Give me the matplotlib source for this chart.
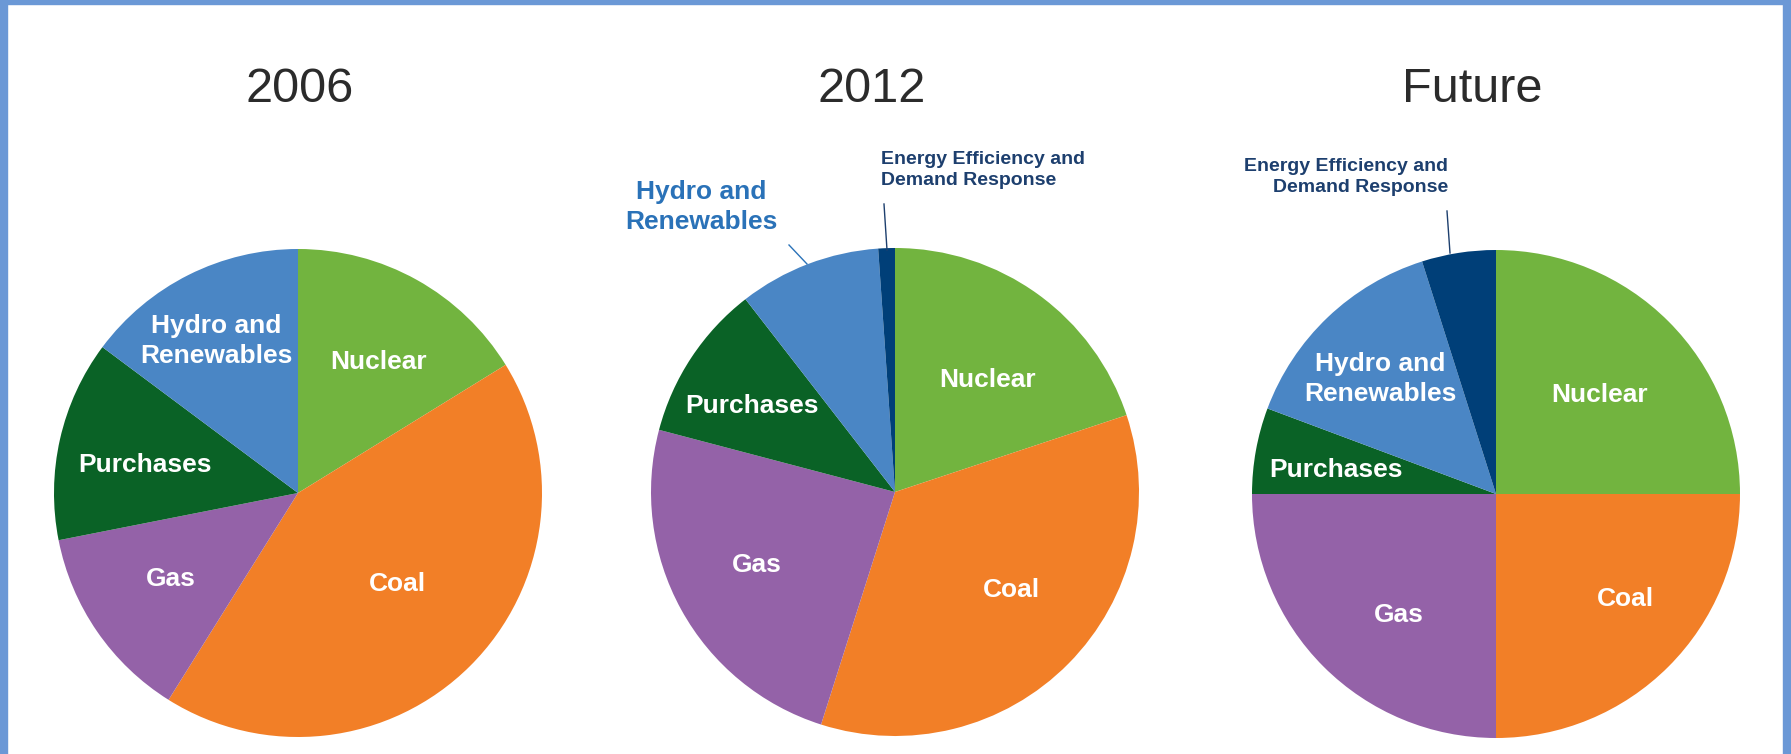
import matplotlib.pyplot as plt
from matplotlib.patches import Rectangle

W, H = 1791, 754

# slice order runs clockwise from 12 o'clock
sources = ['Nuclear', 'Coal', 'Gas', 'Purchases',
           'Hydro and\nRenewables', 'Energy Efficiency and\nDemand Response']
colors = ['#72b43f', '#f27f27', '#9462a8', '#0a6226', '#4a86c5', '#003f78']

titles = ['2006', '2012', 'Future']
share_2006 = [16.2, 42.7, 13.0, 13.3, 14.8, 0.0]
share_2012 = [19.9, 35.0, 24.2, 10.4, 9.4, 1.1]
share_future = [25.0, 25.0, 25.0, 5.7, 14.4, 4.9]
shares = [share_2006, share_2012, share_future]

FONT = ['Liberation Sans', 'DejaVu Sans']

# layout in image pixels (x from left, y from top)
centers = [(298, 493), (895, 492), (1496, 494)]
radius = 244
title_pos = [(300, 90), (872, 90), (1472, 90)]
inner_labels = [
    {'Nuclear': (379, 362), 'Coal': (397, 584), 'Gas': (171, 579),
     'Purchases': (145, 465), 'Hydro and\nRenewables': (216, 341)},
    {'Nuclear': (988, 380), 'Coal': (1011, 590), 'Gas': (757, 565),
     'Purchases': (752, 406)},
    {'Nuclear': (1600, 395), 'Coal': (1625, 599), 'Gas': (1399, 615),
     'Purchases': (1336, 470), 'Hydro and\nRenewables': (1380, 379)},
]


def fy(y):
    return H - y


fig = plt.figure(figsize=(W / 100, H / 100), dpi=100)
fig.patch.set_facecolor('white')
ax = fig.add_axes([0, 0, 1, 1])

for vals, (cx, cy) in zip(shares, centers):
    ax.pie(vals, colors=colors, startangle=90, counterclock=False,
           center=(cx, fy(cy)), radius=radius,
           wedgeprops=dict(linewidth=0))

for t, (x, y) in zip(titles, title_pos):
    ax.text(x, fy(y), t, ha='center', va='center', fontsize=35,
            color='#2b2b2b', family=FONT)

for labels in inner_labels:
    for name, (x, y) in labels.items():
        ax.text(x, fy(y), name, ha='center', va='center', fontsize=19,
                fontweight='bold', color='white', family=FONT,
                linespacing=1.3)

# outside labels on the 2012 pie
ax.text(701, fy(207), sources[4], ha='center', va='center', fontsize=19,
        fontweight='bold', color='#2a72b8', family=FONT, linespacing=1.3)
ax.plot([789, 807], [fy(245), fy(264)], color='#2a72b8', lw=1)
ax.text(881, fy(170), sources[5], ha='left', va='center', fontsize=14,
        fontweight='bold', color='#1d3f6e', family=FONT, linespacing=1.3)
ax.plot([884, 887], [fy(204), fy(250)], color='#1d3f6e', lw=1)

# outside label on the future pie
ax.text(1448, fy(177), sources[5], ha='right', va='center', fontsize=14,
        fontweight='bold', color='#1d3f6e', family=FONT, linespacing=1.3,
        multialignment='right')
ax.plot([1447, 1450], [fy(211), fy(253)], color='#1d3f6e', lw=1)

ax.set_xlim(0, W)
ax.set_ylim(0, H)
ax.set_aspect('equal')
ax.axis('off')

# blue frame on left, top and right
frame = '#6b98d6'
fig.patches.append(Rectangle((0, 0), 7 / W, 1, transform=fig.transFigure,
                             color=frame, zorder=10))
fig.patches.append(Rectangle((0, 1 - 4 / H), 1, 4 / H, transform=fig.transFigure,
                             color=frame, zorder=10))
fig.patches.append(Rectangle((1 - 8 / W, 0), 8 / W, 1, transform=fig.transFigure,
                             color=frame, zorder=10))

fig.savefig('out.png', dpi=100)
